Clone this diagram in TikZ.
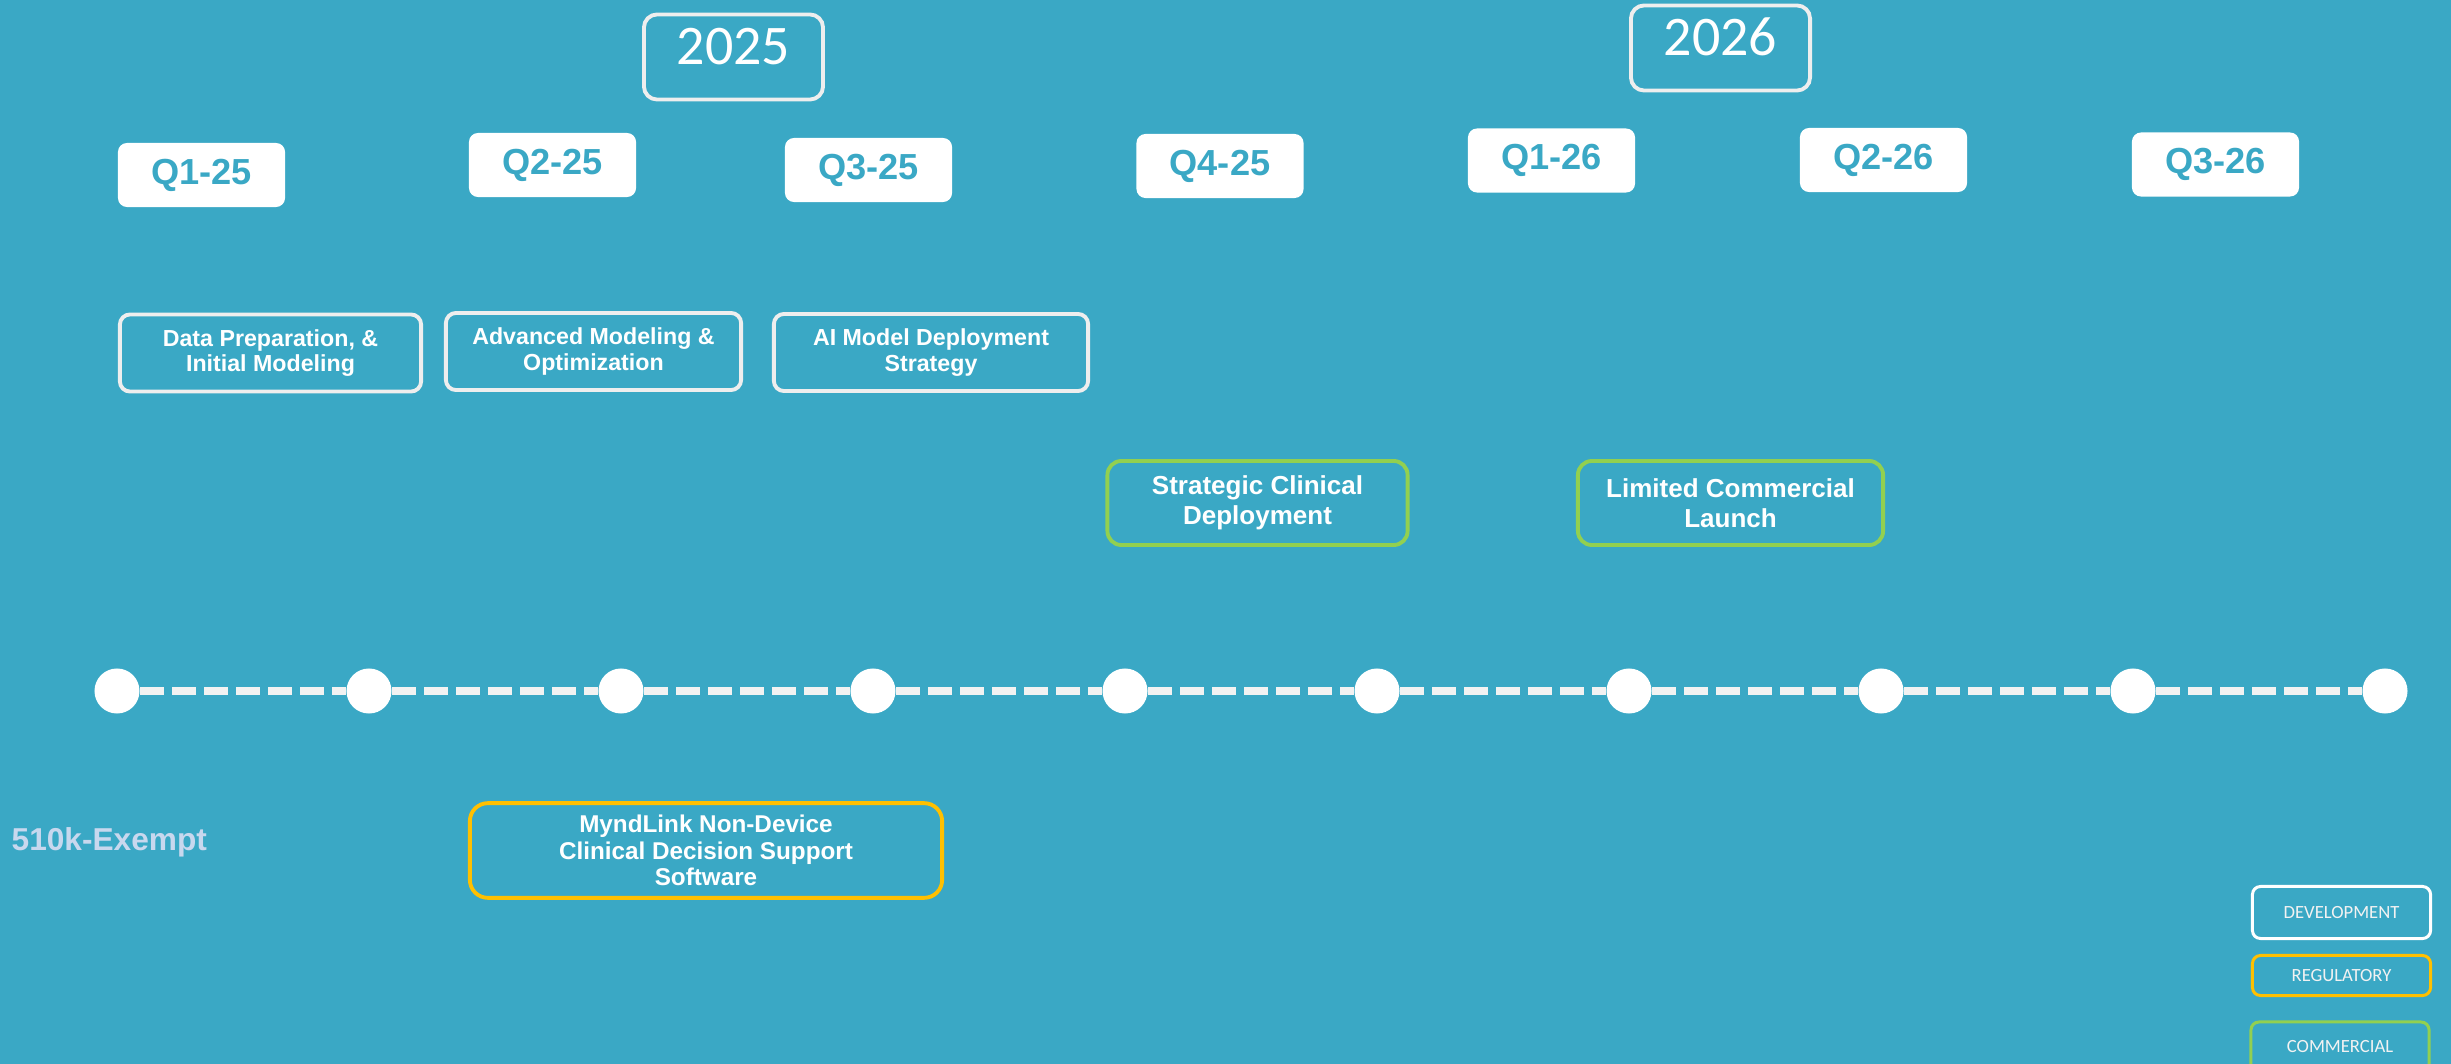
\documentclass[tikz,border=0pt]{standalone}
\usepackage{fontspec}
\setmainfont{Liberation Sans}
\newfontfamily\yearfont{Carlito}
\usepackage{tikz}
\usetikzlibrary{shapes.geometric}
\definecolor{sky}{HTML}{3AA8C5}
\definecolor{boxgray}{HTML}{EEEEEE}
\definecolor{linegray}{HTML}{F2F2F2}
\definecolor{leaf}{HTML}{92D050}
\definecolor{amber}{HTML}{FFC000}
\definecolor{pale}{HTML}{C8D8EE}
\tikzstyle{yearbox} = [rectangle, rounded corners=0.13cm, minimum width=1.79cm, minimum height=0.85cm, draw=boxgray, line width=1.1pt, text=white, text height=0.36cm, text depth=0.2cm, font=\yearfont\fontsize{15.9}{18}\selectfont]
\tikzstyle{quarter} = [rectangle, rounded corners=0.09cm, minimum width=1.67cm, minimum height=0.64cm, text centered, fill=white, text=sky, font=\fontsize{10.3}{12}\selectfont\bfseries]
\tikzstyle{devbox} = [rectangle, rounded corners=0.1cm, minimum width=3cm, minimum height=0.77cm, align=center, draw=boxgray, line width=1.1pt, text=white, font=\fontsize{6.6}{7.2}\selectfont\bfseries]
\tikzstyle{combox} = [devbox, draw=leaf, rounded corners=0.14cm, minimum height=0.84cm, font=\fontsize{7.4}{8.4}\selectfont\bfseries]
\tikzstyle{regbox} = [devbox, draw=amber, rounded corners=0.18cm, minimum height=0.91cm, font=\fontsize{6.9}{7.6}\selectfont\bfseries]
\tikzstyle{key} = [rectangle, rounded corners=0.08cm, minimum width=1.78cm, line width=0.85pt, text=linegray, font=\yearfont\fontsize{5.3}{6}\selectfont]
\tikzstyle{milestone} = [circle, fill=white, minimum size=0.45cm, inner sep=0pt]
\tikzstyle{dashline} = [draw=linegray, line width=0.08cm, dash pattern=on 0.24cm off 0.08cm]

\begin{document}
\begin{tikzpicture}[x=0.01cm, y=-0.01cm]
		\useasboundingbox (0,0) rectangle (2451,1064);
		\clip (0,0) rectangle (2451,1064);
		\fill [sky] (0,0) rectangle (2451,1064);
		\node (y25) [yearbox] at (733.5,57) {2025};
		\node (y26) [yearbox] at (1720.5,48) {2026};
		\node (q125) [quarter] at (201.5,175) {Q1-25};
		\node (q225) [quarter] at (552.5,165) {Q2-25};
		\node (q325) [quarter] at (868.5,170) {Q3-25};
		\node (q425) [quarter] at (1220,166) {Q4-25};
		\node (q126) [quarter] at (1551.5,160.5) {Q1-26};
		\node (q226) [quarter] at (1883.5,160) {Q2-26};
		\node (q326) [quarter] at (2215.5,164.5) {Q3-26};
		\node (prep) [devbox, minimum width=3.01cm] at (270.5,353) {Data Preparation, \&\\Initial Modeling};
		\node (optim) [devbox, minimum width=2.95cm] at (593.5,351.5) {Advanced Modeling \&\\Optimization};
		\node (deploy) [devbox, minimum width=3.14cm] at (931,352.5) {AI Model Deployment\\Strategy};
		\node (clinical) [combox] at (1257.5,503) {Strategic Clinical\\Deployment};
		\node (launch) [combox, minimum width=3.05cm] at (1730.5,503) {Limited Commercial\\Launch};
		\node (cdss) [regbox, minimum width=4.72cm] at (706,850.5) {MyndLink Non-Device\\Clinical Decision Support\\Software};
		\node (exempt) [anchor=west, text=pale, inner sep=0pt, font=\fontsize{9}{10}\selectfont\bfseries] at (11,842) {510k-Exempt};
		\foreach \i in {0,...,9}
			\node (dot\i) [milestone] at ({117+252*\i},691) {};
		\foreach \i [remember=\i as \lasti (initially 0)] in {1,...,9}
			\draw [dashline] (dot\lasti) -- (dot\i);
		\node (keydev) [key, draw=white, minimum height=0.52cm] at (2341.5,912.5) {DEVELOPMENT};
		\node (keyreg) [key, draw=amber, minimum height=0.40cm] at (2341.5,975.5) {REGULATORY};
		\node (keycom) [key, draw=leaf, minimum height=0.50cm] at (2340,1047) {COMMERCIAL};
	\end{tikzpicture}
\end{document}
